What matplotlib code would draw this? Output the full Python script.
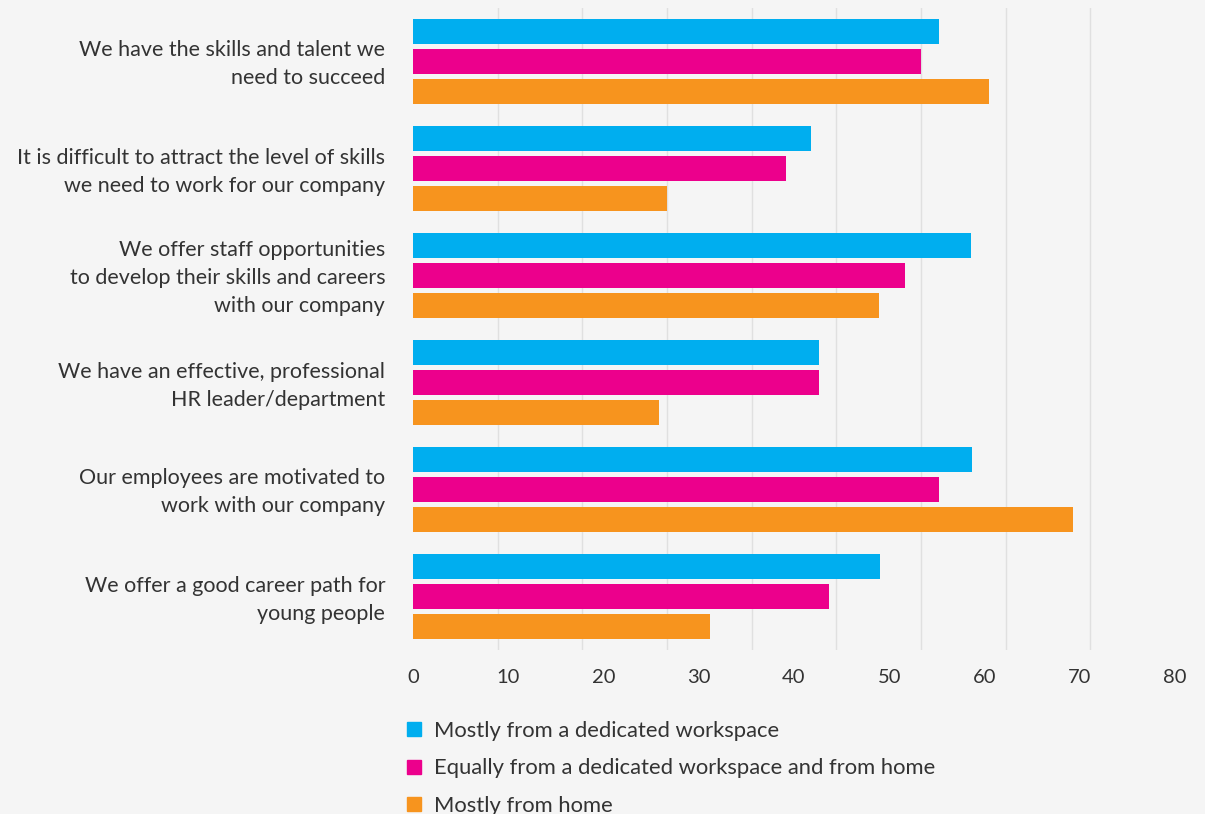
import numpy as np
import matplotlib.pyplot as plt
import matplotlib.transforms as mtransforms
from matplotlib.lines import Line2D

plt.rcParams['font.family'] = ['Lato', 'DejaVu Sans']

categories = [
    'We have the skills and talent we\nneed to succeed',
    'It is difficult to attract the level of skills\nwe need to work for our company',
    'We offer staff opportunities\nto develop their skills and careers\nwith our company',
    'We have an effective, professional\nHR leader/department',
    'Our employees are motivated to\nwork with our company',
    'We offer a good career path for\nyoung people',
]
series_names = [
    'Mostly from a dedicated workspace',
    'Equally from a dedicated workspace and from home',
    'Mostly from home',
]
workspace = [55.2, 41.8, 58.6, 42.6, 58.7, 49.0]
equally = [53.3, 39.2, 51.7, 42.6, 55.2, 43.7]
home = [60.5, 26.7, 48.9, 25.8, 69.3, 31.2]
x_ticks = [0, 10, 20, 30, 40, 50, 60, 70, 80]

colors = ['#00AEEF', '#EC008C', '#F7941E']
bg = '#F5F5F5'
text_color = '#333333'

fig = plt.figure(figsize=(12.05, 8.14), dpi=100, facecolor=bg)
ax = fig.add_axes([413 / 1205, 1 - 650 / 814, (1175 - 413) / 1205, (650 - 8) / 814])
ax.set_facecolor(bg)

y = np.arange(len(categories))
h = 0.234
step = 0.28
for k, (vals, c) in enumerate(zip([workspace, equally, home], colors)):
    ax.barh(y + (k - 1) * step, vals, height=h, color=c, zorder=3)

ax.set_xlim(0, 80)
ax.set_ylim(len(categories) - 0.5, -0.5)

# grid lines split the axis into nine equal parts
ax.set_xticks(np.linspace(0, 80, 10), minor=True)
ax.grid(axis='x', which='minor', color='#E0E0E0', linewidth=1.0, zorder=0)
ax.set_xticks(x_ticks)
ax.set_xticklabels([str(t) for t in x_ticks], fontsize=14.5, color=text_color)
ax.tick_params(axis='x', which='both', length=0, pad=14)

ax.set_yticks(y)
ax.set_yticklabels(categories, fontsize=15.5, color=text_color, linespacing=1.5,
                   ha='right', va='center')
ax.tick_params(axis='y', length=0, pad=20)
# nudge the category labels down a little
shift = mtransforms.ScaledTranslation(0, -3 / 100, fig.dpi_scale_trans)
for lbl in ax.get_yticklabels():
    lbl.set_transform(lbl.get_transform() + shift)

for s in ax.spines.values():
    s.set_visible(False)

handles = [Line2D([], [], marker='s', linestyle='none', markersize=10,
                  color=c) for c in colors]
fig.legend(handles, series_names, loc='upper left',
           bbox_to_anchor=(394 / 1205, 1 - 712 / 814), frameon=False,
           fontsize=15.8, labelcolor=text_color, handlelength=1.0,
           handletextpad=0.42, labelspacing=0.8, borderaxespad=0)

fig.savefig('out.png', dpi=100, facecolor=bg)
